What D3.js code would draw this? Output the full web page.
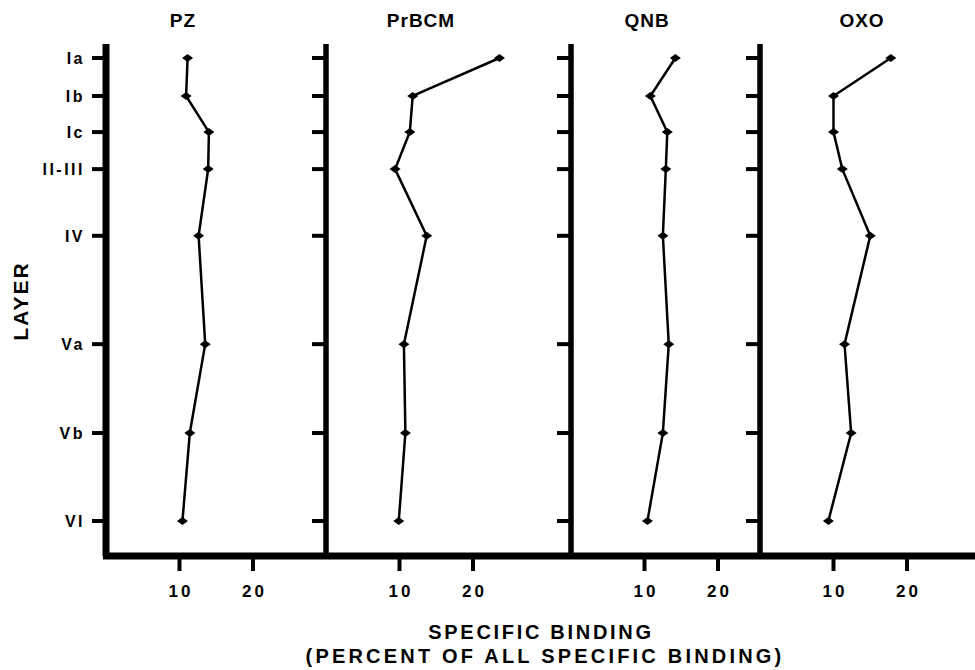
<!DOCTYPE html>
<html>
<head>
<meta charset="utf-8">
<script src="https://cdn.jsdelivr.net/npm/d3@7"></script>
<style>
  body { margin: 0; background: #fff; }
  text { font-family: "Liberation Sans", Arial, sans-serif; font-weight: bold; fill: #000; }
</style>
</head>
<body>
<div id="chart"></div>
<script>
// layers, with relative depth (0 = top of Ia, 1 = VI)
const layers = ["Ia", "Ib", "Ic", "II-III", "IV", "Va", "Vb", "VI"];
const layerDepth = [0, 0.082, 0.160, 0.240, 0.384, 0.618, 0.810, 1.0];

const ligands = ["PZ", "PrBCM", "QNB", "OXO"];
// specific binding, percent of all specific binding
const pz    = [11.1, 10.9, 14.0, 13.9, 12.6, 13.5, 11.4, 10.4];
const prbcm = [23.6, 11.8, 11.4, 9.4, 13.7, 10.6, 10.8, 9.9];
const qnb   = [14.2, 10.8, 13.1, 12.9, 12.5, 13.3, 12.5, 10.4];
const oxo   = [17.8, 10.0, 10.0, 11.2, 15.0, 11.5, 12.4, 9.3];
const series = [pz, prbcm, qnb, oxo];
const xTicks = [10, 20];

const width = 975, height = 670;
const svg = d3.select('#chart').append('svg')
    .attr('width', width)
    .attr('height', height);

// layout
const axisX = [106, 326, 571, 760];
const titleX = [183, 421, 647, 862];
const pxPerUnit = 7.35;
const axisTop = 44, axisBottom = 556;

const y = d3.scaleLinear().domain([0, 1]).range([58, 521]);

// bottom axis line across all panels
svg.append('line')
    .attr('x1', axisX[0] - 3).attr('x2', width)
    .attr('y1', axisBottom).attr('y2', axisBottom)
    .attr('stroke', '#000').attr('stroke-width', 7);

const diamond = 'M-5.5,0L0,-4L5.5,0L0,4Z';

ligands.forEach((name, p) => {
    const x = d3.scaleLinear().domain([0, 30]).range([axisX[p], axisX[p] + 30 * pxPerUnit]);
    const g = svg.append('g');

    // vertical axis
    g.append('line')
        .attr('x1', axisX[p]).attr('x2', axisX[p])
        .attr('y1', axisTop).attr('y2', axisBottom)
        .attr('stroke', '#000').attr('stroke-width', p === 0 ? 7 : 5.5);

    // layer ticks
    g.selectAll('.ytick')
        .data(layerDepth)
        .enter().append('line')
        .attr('x1', axisX[p] - 14).attr('x2', axisX[p])
        .attr('y1', d => y(d)).attr('y2', d => y(d))
        .attr('stroke', '#000').attr('stroke-width', 4);

    // binding ticks
    g.selectAll('.xtick')
        .data(xTicks)
        .enter().append('line')
        .attr('x1', d => x(d)).attr('x2', d => x(d))
        .attr('y1', axisBottom).attr('y2', axisBottom + 15)
        .attr('stroke', '#000').attr('stroke-width', 4);

    g.selectAll('.xlabel')
        .data(xTicks)
        .enter().append('text')
        .attr('x', d => x(d) + 1.5)
        .attr('y', 597)
        .attr('text-anchor', 'middle')
        .style('font-size', '17px')
        .style('letter-spacing', '3px')
        .text(d => d);

    // title
    g.append('text')
        .attr('x', titleX[p]).attr('y', 27)
        .attr('text-anchor', 'middle')
        .style('font-size', '19px')
        .style('letter-spacing', '1px')
        .text(name);

    // data line
    const pts = series[p].map((v, i) => [v, layerDepth[i]]);
    g.append('path')
        .datum(pts)
        .attr('fill', 'none')
        .attr('stroke', '#000')
        .attr('stroke-width', 2.5)
        .attr('stroke-linejoin', 'round')
        .attr('d', d3.line().x(d => x(d[0])).y(d => y(d[1])));

    g.selectAll('.pt')
        .data(pts)
        .enter().append('path')
        .attr('d', diamond)
        .attr('transform', d => `translate(${x(d[0])},${y(d[1])})`)
        .attr('fill', '#000');
});

// layer labels
svg.selectAll('.layer')
    .data(layers)
    .enter().append('text')
    .attr('x', 85)
    .attr('y', (d, i) => y(layerDepth[i]) + 6)
    .attr('text-anchor', 'end')
    .style('font-size', '16px')
    .style('letter-spacing', '2.5px')
    .text(d => d);

// axis titles
svg.append('text')
    .attr('transform', 'translate(28,301) rotate(-90)')
    .attr('text-anchor', 'middle')
    .style('font-size', '21px')
    .style('letter-spacing', '2px')
    .text('LAYER');

svg.append('text')
    .attr('x', 541).attr('y', 639)
    .attr('text-anchor', 'middle')
    .style('font-size', '20px')
    .style('letter-spacing', '2.7px')
    .text('SPECIFIC BINDING');

svg.append('text')
    .attr('x', 545).attr('y', 663)
    .attr('text-anchor', 'middle')
    .style('font-size', '20px')
    .style('letter-spacing', '3.2px')
    .text('(PERCENT OF ALL SPECIFIC BINDING)');
</script>
</body>
</html>
